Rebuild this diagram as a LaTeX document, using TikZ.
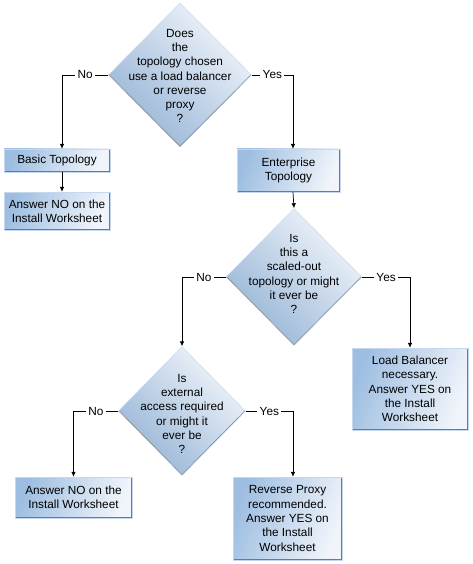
\documentclass[tikz,border=0pt]{standalone}
\usepackage{fontspec}
\setmainfont{Liberation Sans}
\usetikzlibrary{shapes.geometric,arrows.meta}
\definecolor{bdark}{RGB}{158,190,225}
\definecolor{blight}{RGB}{241,245,251}
\definecolor{edgegray}{RGB}{120,120,120}
\tikzset{
  x=1pt,y=-1pt,
  every node/.style={font=\fontsize{11.8}{14.3}\selectfont},
  boxnode/.style={rectangle, inner sep=0pt, align=center, draw=bdark!60, line width=0.4pt,
    top color=blight, bottom color=bdark, shading angle=-110,
    path picture={\draw[edgegray, line width=1.6pt]
      (path picture bounding box.north east) -- (path picture bounding box.south east)
      -- (path picture bounding box.south west);}},
  dianode/.style={diamond, inner sep=0pt, draw=bdark!60, line width=0.4pt,
    top color=blight, bottom color=bdark!95!black, shading angle=-45,
    path picture={\draw[edgegray, line width=1.4pt]
      (path picture bounding box.east) -- (path picture bounding box.south)
      -- (path picture bounding box.west);}},
  dtext/.style={align=center, inner sep=0pt},
  conn/.style={draw=black, line width=0.7pt, -{Latex[length=5pt,width=4.5pt]}},
  lab/.style={fill=white, inner sep=2.5pt, pos=0.25}
}
\begin{document}
\begin{tikzpicture}
\useasboundingbox (0,0) rectangle (473,564);
% diamonds
\node[dianode, minimum width=143, minimum height=144] (d1) at (180,75) {};
\node[dtext] (d1t) at (180,76) {Does\\the\\topology chosen\\use a load balancer\\or reverse\\proxy\\?};
\node[dianode, minimum width=136, minimum height=137] (d2) at (294,277) {};
\node[dtext] (d2t) at (294,274) {Is\\this a\\scaled-out\\topology or might\\it ever be\\?};
\node[dianode, minimum width=127, minimum height=129] (d3) at (182,411) {};
\node[dtext] (d3t) at (182,414) {Is\\external\\access required\\or might it\\ever be\\?};
% boxes
\node[boxnode, minimum width=106, minimum height=23] (basic) at (57,160.5) {Basic Topology};
\node[boxnode, minimum width=106, minimum height=38] (ano1) at (57,211) {Answer NO on the\\Install Worksheet};
\node[boxnode, minimum width=103, minimum height=43] (ent) at (288.5,170.5) {Enterprise\\Topology};
\node[boxnode, minimum width=116, minimum height=82] (lb) at (410,389) {Load Balancer\\necessary.\\Answer YES on\\the Install\\Worksheet};
\node[boxnode, minimum width=117, minimum height=41] (ano2) at (73.5,497.5) {Answer NO on the\\Install Worksheet};
\node[boxnode, minimum width=109, minimum height=83] (rp) at (287.5,518.5) {Reverse Proxy\\recommended.\\Answer YES on\\the Install\\Worksheet};
% connectors
\draw[conn] (d1.west) -| node[lab]{No} ([xshift=5pt]basic.north);
\draw[conn] (d1.east) -| node[lab]{Yes} ([xshift=4.5pt]ent.north);
\draw[conn] ([xshift=5pt]basic.south) -- ([xshift=5pt]ano1.north);
\draw[conn] ([xshift=4.5pt]ent.south) -- (d2.north);
\draw[conn] (d2.west) -| node[lab]{No} (d3.north);
\draw[conn] (d2.east) -| node[lab]{Yes} (lb.north);
\draw[conn] (d3.west) -| node[lab]{No} (ano2.north);
\draw[conn] (d3.east) -| node[lab]{Yes} ([xshift=5.5pt]rp.north);
\end{tikzpicture}
\end{document}
